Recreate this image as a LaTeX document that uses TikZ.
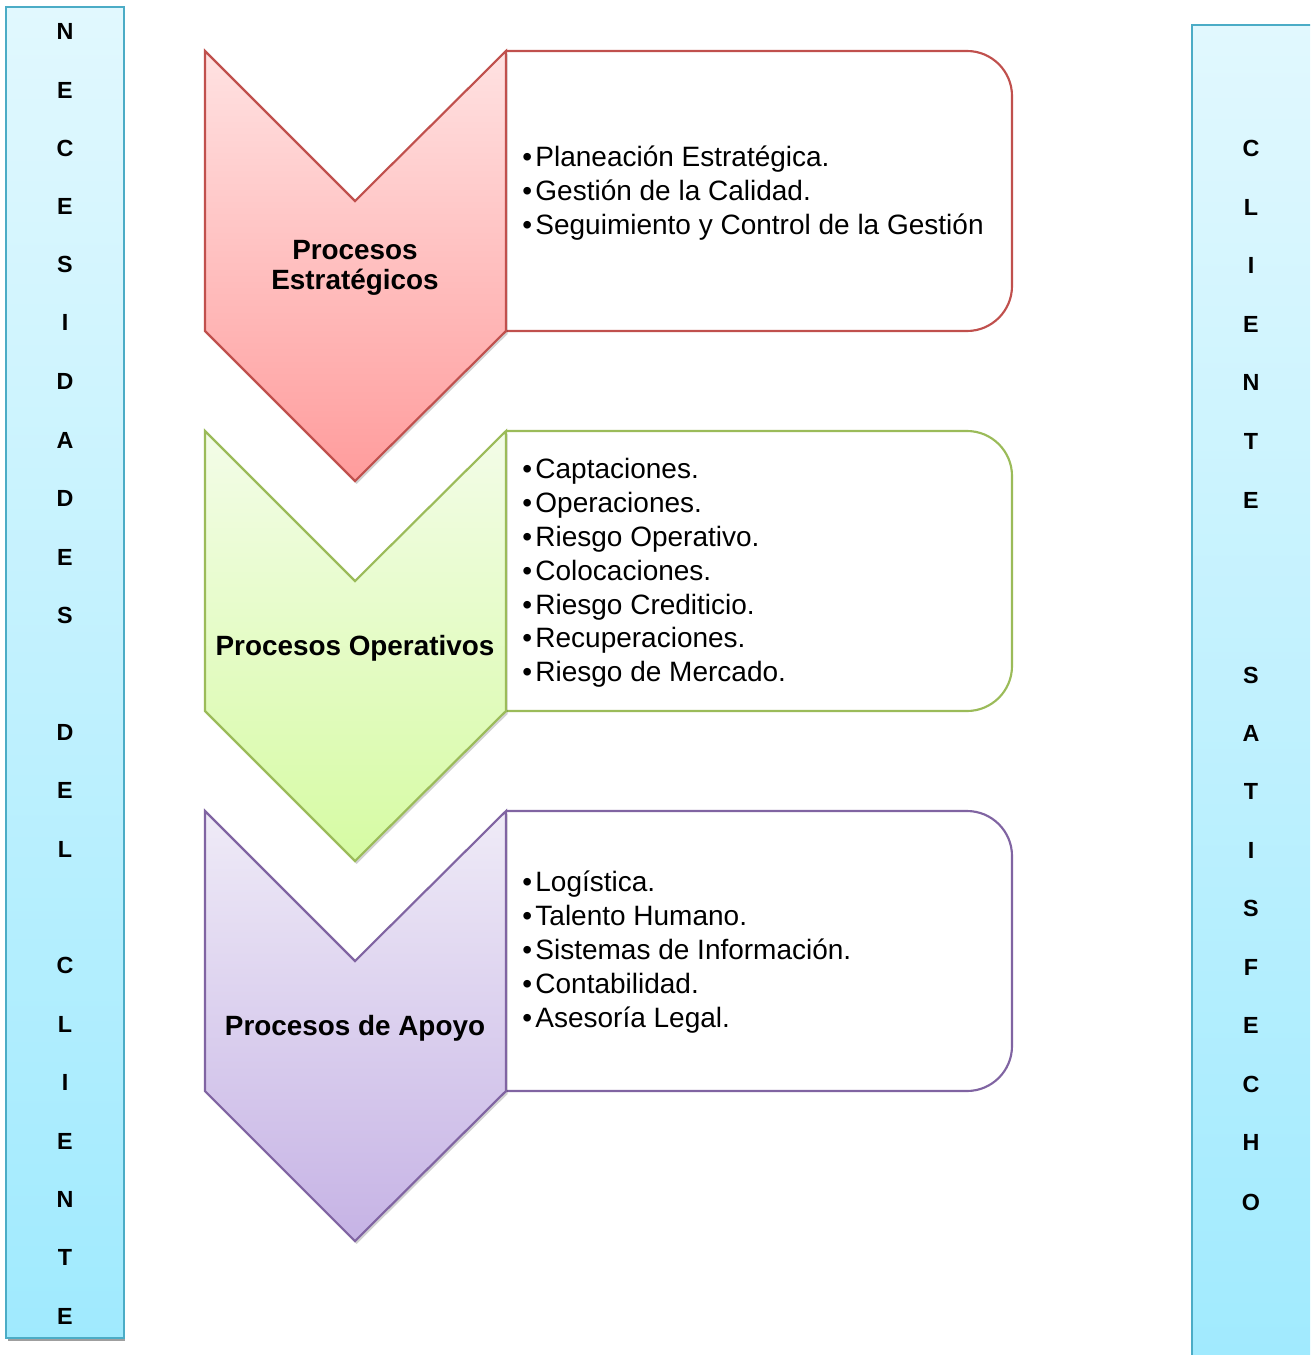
\documentclass[tikz,border=0pt]{standalone}
\usepackage{fontspec}
\setmainfont{Liberation Sans}
\definecolor{redL}{HTML}{C0504D}
\definecolor{redT}{HTML}{FFE2E2}
\definecolor{redB}{HTML}{FF9C9C}
\definecolor{grnL}{HTML}{9BBB59}
\definecolor{grnT}{HTML}{F3FCE8}
\definecolor{grnB}{HTML}{D6FBA3}
\definecolor{purL}{HTML}{8064A2}
\definecolor{purT}{HTML}{EFEBF7}
\definecolor{purB}{HTML}{C6B3E5}
\definecolor{barL}{HTML}{4BACC6}
\definecolor{barT}{HTML}{E1F8FE}
\definecolor{barB}{HTML}{A0EAFE}
\newcommand\mybul{•\kern2.5pt}
\begin{document}
\begin{tikzpicture}[x=0.75pt,y=-0.75pt,
  letter/.style={font=\fontsize{17.5}{19}\selectfont\bfseries, inner sep=0pt},
  chevlabel/.style={font=\fontsize{20.9}{22.5}\selectfont\bfseries, align=center, inner sep=0pt},
  bullets/.style={font=\fontsize{21}{25.4}\selectfont, align=left, anchor=west, inner sep=0pt},
  shadowc/.style={fill=black, opacity=0.18},
  chev/.style={line width=1.6pt},
  procbox/.style={line width=1.6pt, rounded corners=33.75pt},
  bar/.style={top color=barT, bottom color=barB, draw=barL, line width=1.5pt}]
\useasboundingbox (0,0) rectangle (1310,1355);
\fill[white] (0,0) rectangle (1310,1355);
% left bar
\fill[gray!75] (8,1334) rectangle (125,1341);
\path[bar] (6,7) rectangle (124,1338);
% right bar
\begin{scope}
\clip (0,0) rectangle (1310,1355);
\path[bar] (1192,25) rectangle (1325,1375);
\end{scope}
% letters left
\foreach \l/\yy [count=\i] in {N/31,E/90,C/148,E/206,S/264,I/322,D/381,A/440,D/498,E/557,S/615,D/732,E/790,L/849,C/965,L/1024,I/1082,E/1141,N/1199,T/1257,E/1316}
  \node[letter] (L\i) at (65,\yy) {\l};
\foreach \l/\yy [count=\i] in {C/148,L/207,I/265,E/324,N/382,T/441,E/500,S/675,A/733,T/791,I/850,S/908,F/967,E/1025,C/1084,H/1142,O/1202}
  \node[letter] (R\i) at (1251,\yy) {\l};
% boxes
\draw[procbox, redL] (506,51) -- (1012,51) -- (1012,331) -- (506,331);
\draw[procbox, grnL] (506,431) -- (1012,431) -- (1012,711) -- (506,711);
\draw[procbox, purL] (506,811) -- (1012,811) -- (1012,1091) -- (506,1091);
% chevrons
\foreach \yo/\cl/\ct/\cb in {0/redL/redT/redB, 380/grnL/grnT/grnB, 760/purL/purT/purB}{
  \fill[shadowc, xshift=1.2pt, yshift=-2.2pt] (205,51+\yo) -- (355,201+\yo) -- (506,51+\yo) -- (506,331+\yo) -- (355,481+\yo) -- (205,331+\yo) -- cycle;
  \path[chev, draw=\cl, top color=\ct, bottom color=\cb] (205,51+\yo) -- (355,201+\yo) -- (506,51+\yo) -- (506,331+\yo) -- (355,481+\yo) -- (205,331+\yo) -- cycle;
}
% labels
\node[chevlabel] (c1) at (355,268) {Procesos\\Estratégicos};
\node[chevlabel] (c2) at (355,648) {Procesos Operativos};
\node[chevlabel] (c3) at (355,1028) {Procesos de Apoyo};
\node[bullets] (b1) at (522,193) {\mybul Planeación Estratégica.\\\mybul Gestión de la Calidad.\\\mybul Seguimiento y Control de la Gestión};
\node[bullets] (b2) at (522,573) {\mybul Captaciones.\\\mybul Operaciones.\\\mybul Riesgo Operativo.\\\mybul Colocaciones.\\\mybul Riesgo Crediticio.\\\mybul Recuperaciones.\\\mybul Riesgo de Mercado.};
\node[bullets] (b3) at (522,952) {\mybul Logística.\\\mybul Talento Humano.\\\mybul Sistemas de Información.\\\mybul Contabilidad.\\\mybul Asesoría Legal.};
\end{tikzpicture}
\end{document}
